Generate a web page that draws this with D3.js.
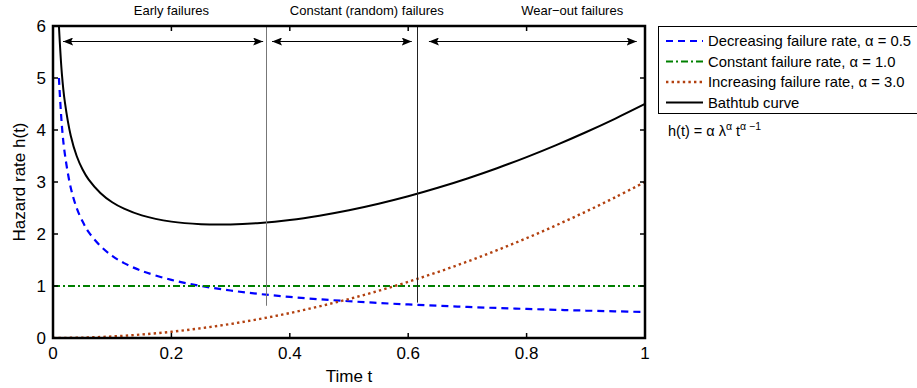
<!DOCTYPE html>
<html>
<head>
<meta charset="utf-8">
<script src="https://cdn.jsdelivr.net/npm/d3@7"></script>
<style>
  body { margin: 0; background: #fff; }
  svg { display: block; font-family: "Liberation Sans", Arial, sans-serif; }
</style>
</head>
<body>
<div id="chart"></div>
<script>
// sample times
const tCurve = [0.01, 0.015, 0.02, 0.03, 0.04, 0.05, 0.06, 0.08, 0.1, 0.12, 0.15, 0.2, 0.25, 0.3, 0.35,
  0.4, 0.45, 0.5, 0.55, 0.6, 0.65, 0.7, 0.75, 0.8, 0.85, 0.9, 0.95, 1.0];
// decreasing failure rate, alpha = 0.5
const hDecreasing = [5.00, 4.08, 3.54, 2.89, 2.50, 2.24, 2.04, 1.77, 1.58, 1.44, 1.29, 1.118, 1.00, 0.913, 0.845,
  0.79, 0.745, 0.707, 0.674, 0.645, 0.62, 0.598, 0.577, 0.559, 0.542, 0.527, 0.513, 0.50];
// bathtub curve
const hBathtub = [6.00, 5.08, 4.54, 3.89, 3.50, 3.24, 3.05, 2.79, 2.61, 2.487, 2.358, 2.238, 2.188, 2.183, 2.213,
  2.27, 2.353, 2.457, 2.582, 2.725, 2.888, 3.068, 3.265, 3.479, 3.71, 3.957, 4.22, 4.50];
// increasing failure rate, alpha = 3.0
const tIncreasing = [0, 0.05, 0.1, 0.15, 0.2, 0.25, 0.3, 0.35, 0.4, 0.45, 0.5, 0.55, 0.6, 0.65, 0.7,
  0.75, 0.8, 0.85, 0.9, 0.95, 1.0];
const hIncreasing = [0, 0.008, 0.03, 0.068, 0.12, 0.188, 0.27, 0.368, 0.48, 0.608, 0.75, 0.908, 1.08, 1.268, 1.47,
  1.688, 1.92, 2.168, 2.43, 2.708, 3.00];
// constant failure rate, alpha = 1.0
const tConstant = [0, 1];
const hConstant = [1, 1];

const xTicks = [0, 0.2, 0.4, 0.6, 0.8, 1];
const yTicks = [0, 1, 2, 3, 4, 5, 6];

const phaseNames = ["Early failures", "Constant (random) failures", "Wear\u2212out failures"];
const phaseLabelT = [0.2, 0.53, 0.877];
const arrowFrom = [0.017, 0.37, 0.635];
const arrowTo = [0.355, 0.606, 0.986];
const dividerT = [0.36, 0.615];
const dividerLow = [0.62, 0.68];

const legendNames = ["Decreasing failure rate, \u03b1 = 0.5", "Constant failure rate, \u03b1 = 1.0",
  "Increasing failure rate, \u03b1 = 3.0", "Bathtub curve"];

const W = 917, H = 388;
const plot = {left: 53, right: 645, top: 26, bottom: 338};

const svg = d3.select('#chart').append('svg')
  .attr('width', W).attr('height', H);

const x = d3.scaleLinear().domain([0, 1]).range([plot.left, plot.right]);
const y = d3.scaleLinear().domain([0, 6]).range([plot.bottom, plot.top]);

svg.append('defs').append('clipPath').attr('id', 'clip')
  .append('rect')
  .attr('x', plot.left).attr('y', plot.top)
  .attr('width', plot.right - plot.left).attr('height', plot.bottom - plot.top);

const styles = [
  {color: '#0000ff', width: 2.2, dash: '7,5'},
  {color: '#008000', width: 2, dash: '7,3,2,3'},
  {color: '#b2400f', width: 2.4, dash: '2.4,3.2'},
  {color: '#000000', width: 2, dash: null}
];

const line = d3.line().x(d => x(d[0])).y(d => y(d[1])).curve(d3.curveCatmullRom.alpha(0.5));
const series = [
  d3.zip(tCurve, hDecreasing),
  d3.zip(tConstant, hConstant),
  d3.zip(tIncreasing, hIncreasing),
  d3.zip(tCurve, hBathtub)
];

const g = svg.append('g').attr('clip-path', 'url(#clip)');
series.forEach((s, i) => {
  g.append('path').datum(s)
    .attr('d', line)
    .attr('fill', 'none')
    .attr('stroke', styles[i].color)
    .attr('stroke-width', styles[i].width)
    .attr('stroke-dasharray', styles[i].dash);
});

// phase dividers
svg.selectAll('.divider').data(dividerT).enter().append('line')
  .attr('class', 'divider')
  .attr('x1', d => Math.round(x(d)) + 0.5).attr('x2', d => Math.round(x(d)) + 0.5)
  .attr('y1', plot.top).attr('y2', (d, i) => y(dividerLow[i]))
  .attr('stroke', (d, i) => i === 0 ? '#777' : '#222')
  .attr('stroke-width', 1);

// arrows
svg.append('defs').append('marker')
  .attr('id', 'head').attr('viewBox', '0 0 10 8')
  .attr('refX', 10).attr('refY', 4)
  .attr('markerWidth', 10).attr('markerHeight', 8)
  .attr('markerUnits', 'userSpaceOnUse')
  .attr('orient', 'auto-start-reverse')
  .append('path').attr('d', 'M0,0L10,4L0,8L2,4Z').attr('fill', '#000');

const arrowY = 41.5;
svg.selectAll('.arrow').data(arrowFrom).enter().append('line')
  .attr('class', 'arrow')
  .attr('x1', d => x(d)).attr('x2', (d, i) => x(arrowTo[i]))
  .attr('y1', arrowY).attr('y2', arrowY)
  .attr('stroke', '#000').attr('stroke-width', 1)
  .attr('marker-start', 'url(#head)').attr('marker-end', 'url(#head)');

svg.selectAll('.phase').data(phaseNames).enter().append('text')
  .attr('class', 'phase')
  .attr('x', (d, i) => x(phaseLabelT[i])).attr('y', 15)
  .attr('text-anchor', 'middle')
  .attr('font-size', 13)
  .text(d => d);

// axes frame and inside ticks
const tickLen = 5;
const axis = svg.append('g');
axis.append('rect')
  .attr('x', plot.left).attr('y', plot.top)
  .attr('width', plot.right - plot.left).attr('height', plot.bottom - plot.top)
  .attr('fill', 'none').attr('stroke', '#000').attr('stroke-width', 2.5);

xTicks.forEach(t => {
  axis.append('line').attr('x1', x(t)).attr('x2', x(t))
    .attr('y1', plot.bottom).attr('y2', plot.bottom - tickLen)
    .attr('stroke', '#000').attr('stroke-width', 1.5);
  axis.append('line').attr('x1', x(t)).attr('x2', x(t))
    .attr('y1', plot.top).attr('y2', plot.top + tickLen)
    .attr('stroke', '#000').attr('stroke-width', 1.5);
});
yTicks.forEach(v => {
  axis.append('line').attr('x1', plot.left).attr('x2', plot.left + tickLen)
    .attr('y1', y(v)).attr('y2', y(v))
    .attr('stroke', '#000').attr('stroke-width', 1.5);
  axis.append('line').attr('x1', plot.right).attr('x2', plot.right - tickLen)
    .attr('y1', y(v)).attr('y2', y(v))
    .attr('stroke', '#000').attr('stroke-width', 1.5);
});

axis.selectAll('.xlab').data(xTicks).enter().append('text')
  .attr('x', d => x(d)).attr('y', 359)
  .attr('text-anchor', 'middle').attr('font-size', 17)
  .text(d => d3.format('~g')(d));

axis.selectAll('.ylab').data(yTicks).enter().append('text')
  .attr('x', 46).attr('y', d => y(d) + 6)
  .attr('text-anchor', 'end').attr('font-size', 17)
  .text(d => d);

svg.append('text')
  .attr('x', (plot.left + plot.right) / 2).attr('y', 382)
  .attr('text-anchor', 'middle').attr('font-size', 17)
  .text('Time t');

svg.append('text')
  .attr('transform', 'translate(25,' + (plot.top + plot.bottom) / 2 + ') rotate(-90)')
  .attr('text-anchor', 'middle').attr('font-size', 17)
  .text('Hazard rate h(t)');

// legend
const leg = svg.append('g');
leg.append('rect')
  .attr('x', 658.5).attr('y', 26.5).attr('width', 265).attr('height', 87)
  .attr('fill', '#fff').attr('stroke', '#000').attr('stroke-width', 1);
legendNames.forEach((name, i) => {
  const ry = 41 + i * 20.5;
  leg.append('line')
    .attr('x1', 666).attr('x2', 703).attr('y1', ry).attr('y2', ry)
    .attr('stroke', styles[i].color)
    .attr('stroke-width', styles[i].width)
    .attr('stroke-dasharray', styles[i].dash);
  leg.append('text')
    .attr('x', 708).attr('y', ry + 5)
    .attr('font-size', 14.8)
    .text(name);
});

// formula
const f = svg.append('text').attr('x', 668).attr('y', 136).attr('font-size', 14.5);
f.append('tspan').text('h(t) = \u03b1 \u03bb');
f.append('tspan').attr('dy', -6).attr('font-size', 10.5).text('\u03b1');
f.append('tspan').attr('dy', 6).text(' t');
f.append('tspan').attr('dy', -6).attr('font-size', 10.5).text('\u03b1 \u22121');
</script>
</body>
</html>
